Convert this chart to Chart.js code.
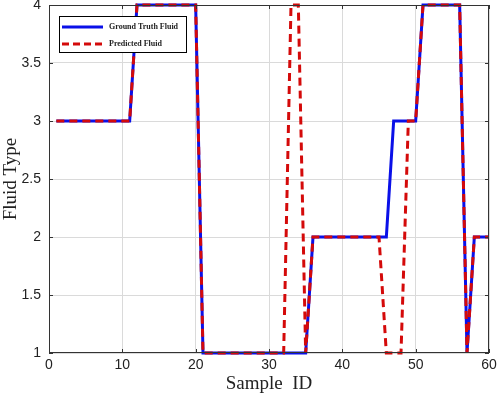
<!DOCTYPE html>
<html>
<head>
<meta charset="utf-8">
<script src="https://cdn.jsdelivr.net/npm/chart.js@4/dist/chart.umd.min.js"></script>
<style>
  html, body { margin: 0; padding: 0; background: #fff; }
  #wrap { width: 498px; height: 395px; }
</style>
</head>
<body>
<div id="wrap"><canvas id="chart"></canvas></div>
<script>
// sample ids along the x axis
var sampleIds = [1, 2, 3, 4, 5, 6, 7, 8, 9, 10,
  11, 12, 13, 14, 15, 16, 17, 18, 19, 20,
  21, 22, 23, 24, 25, 26, 27, 28, 29, 30,
  31, 32, 33, 34, 35, 36, 37, 38, 39, 40,
  41, 42, 43, 44, 45, 46, 47, 48, 49, 50,
  51, 52, 53, 54, 55, 56, 57, 58, 59, 60];

var groundTruth = [3, 3, 3, 3, 3, 3, 3, 3, 3, 3,
  3, 4, 4, 4, 4, 4, 4, 4, 4, 4,
  1, 1, 1, 1, 1, 1, 1, 1, 1, 1,
  1, 1, 1, 1, 1, 2, 2, 2, 2, 2,
  2, 2, 2, 2, 2, 2, 3, 3, 3, 3,
  4, 4, 4, 4, 4, 4, 1, 2, 2, 2];

var predicted = [3, 3, 3, 3, 3, 3, 3, 3, 3, 3,
  3, 4, 4, 4, 4, 4, 4, 4, 4, 4,
  1, 1, 1, 1, 1, 1, 1, 1, 1, 1,
  1, 1, 4, 4, 1, 2, 2, 2, 2, 2,
  2, 2, 2, 2, 2, 1, 1, 1, 3, 3,
  4, 4, 4, 4, 4, 4, 1, 2, 2, 2];

var seriesNames = ['Ground Truth Fluid', 'Predicted Fluid'];
var xTitle = 'Sample  ID';
var yTitle = 'Fluid Type';

var blue = '#0a10e8';
var red = '#d40a0a';

function toPoints(vals) {
  return sampleIds.map(function(id, i) { return {x: id, y: vals[i]}; });
}

// legend box drawn inside the plot, plus the frame and inward ticks
var frame = {
  id: 'frame',
  afterDraw: function(chart) {
    var c = chart.ctx, a = chart.chartArea;
    var xs = chart.scales.x, ys = chart.scales.y;
    c.save();
    c.strokeStyle = '#333';
    c.lineWidth = 1;
    c.strokeRect(a.left + 0.5, a.top + 0.5, a.right - a.left - 1, a.bottom - a.top - 1);
    c.beginPath();
    ys.ticks.forEach(function(t) {
      var py = Math.round(ys.getPixelForValue(t.value)) + 0.5;
      c.moveTo(a.left, py); c.lineTo(a.left + 4, py);
      c.moveTo(a.right, py); c.lineTo(a.right - 4, py);
    });
    xs.ticks.forEach(function(t) {
      var px = Math.round(xs.getPixelForValue(t.value)) + 0.5;
      c.moveTo(px, a.bottom); c.lineTo(px, a.bottom - 4);
      c.moveTo(px, a.top); c.lineTo(px, a.top + 4);
    });
    c.stroke();

    // legend
    var lx = 59, ly = 16, lw = 127, lh = 36;
    c.fillStyle = '#fff';
    c.fillRect(lx, ly, lw, lh);
    c.strokeStyle = '#000';
    c.strokeRect(lx + 0.5, ly + 0.5, lw, lh);
    c.lineWidth = 3;
    c.strokeStyle = blue;
    c.setLineDash([]);
    c.beginPath(); c.moveTo(62, 27); c.lineTo(103, 27); c.stroke();
    c.strokeStyle = red;
    c.setLineDash([7, 4]);
    c.beginPath(); c.moveTo(62, 44); c.lineTo(103, 44); c.stroke();
    c.setLineDash([]);
    c.fillStyle = '#222';
    c.font = 'bold 8px "Liberation Serif", serif';
    c.textBaseline = 'middle';
    c.fillText(seriesNames[0], 109, 27);
    c.fillText(seriesNames[1], 109, 44);
    c.restore();
  }
};

new Chart(document.getElementById('chart'), {
  type: 'line',
  data: {
    datasets: [{
      label: seriesNames[1],
      data: toPoints(predicted),
      borderColor: red,
      borderWidth: 3,
      borderDash: [8, 5],
      pointRadius: 0,
      tension: 0,
      fill: false,
      clip: 4,
      order: 0
    }, {
      label: seriesNames[0],
      data: toPoints(groundTruth),
      borderColor: blue,
      borderWidth: 3,
      pointRadius: 0,
      tension: 0,
      fill: false,
      clip: 4,
      order: 1
    }]
  },
  options: {
    responsive: true,
    maintainAspectRatio: false,
    animation: false,
    layout: { padding: { top: 5, right: 9, left: 0, bottom: 0 } },
    plugins: {
      legend: { display: false },
      tooltip: { enabled: false }
    },
    scales: {
      x: {
        type: 'linear',
        min: 0,
        max: 60,
        ticks: { stepSize: 10, color: '#222', padding: 4, font: { family: '"Liberation Sans", Arial', size: 14 } },
        grid: { color: '#dadada', drawTicks: false },
        border: { display: false },
        title: { display: true, text: xTitle, color: '#222', padding: { top: 0, bottom: 0 }, font: { family: '"Liberation Serif", serif', size: 19 } },
        afterFit: function(s) { s.height = 42; s.paddingLeft = 0; s.paddingRight = 0; }
      },
      y: {
        min: 1,
        max: 4,
        ticks: {
          stepSize: 0.5, color: '#222', padding: 8,
          font: { family: '"Liberation Sans", Arial', size: 14 },
          callback: function(v) { return String(v); }
        },
        grid: { color: '#dadada', drawTicks: false },
        border: { display: false },
        title: { display: true, text: yTitle, color: '#222', padding: { top: 0, bottom: 0 }, font: { family: '"Liberation Serif", serif', size: 19 } },
        afterFit: function(s) { s.width = 49; s.paddingTop = 0; s.paddingBottom = 0; }
      }
    }
  },
  plugins: [frame]
});
</script>
</body>
</html>
